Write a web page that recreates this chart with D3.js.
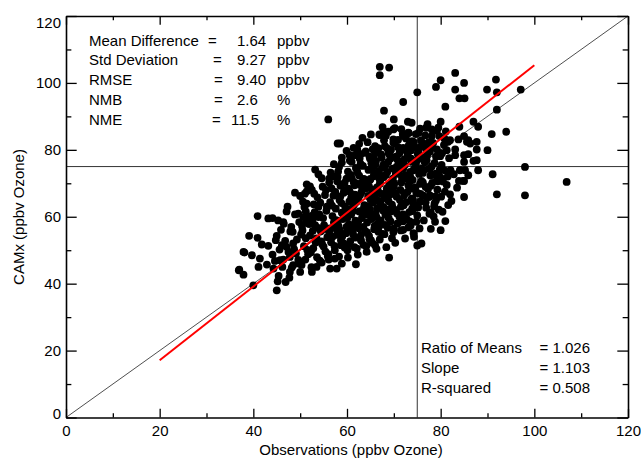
<!DOCTYPE html>
<html>
<head>
<meta charset="utf-8">
<script src="https://cdn.jsdelivr.net/npm/d3@7"></script>
<style>
  body { margin: 0; background: #fff; }
  text { font-family: "Liberation Sans", Arial, sans-serif; }
</style>
</head>
<body>
<script>
// axis ticks
const majorTicks = [0, 20, 40, 60, 80, 100, 120];
const minorTicks = [10, 30, 50, 70, 90, 110];

// statistics boxes
const statLabels = ["Mean Difference", "Std Deviation", "RMSE", "NMB", "NME"];
const statValues = ["1.64", "9.27", "9.40", "2.6", "11.5"];
const statUnits = ["ppbv", "ppbv", "ppbv", "%", "%"];
const fitLabels = ["Ratio of Means", "Slope", "R-squared"];
const fitValues = ["1.026", "1.103", "0.508"];

// regression line and the 75 ppbv threshold
const fitX = [20, 100];
const fitY = [17.1, 105.3];
const threshold = 75;

// [observed, CAMx] pairs, scattered points around the edges of the cloud
const outerPoints = [
  [67.0,104.8],[69.0,104.6],[67.0,102.3],[83.1,103.0],[80.0,100.8],[85.0,100.0],[79.0,98.8],[75.0,97.2],
  [83.1,98.0],[84.0,95.4],[85.1,95.4],[89.9,98.0],[91.8,101.0],[92.0,97.2],[97.1,98.0],[72.0,94.3],
  [81.0,92.9],[67.9,91.7],[92.0,92.0],[70.0,89.1],[73.0,88.4],[73.8,88.1],[80.0,88.4],[87.0,88.4],
  [77.2,87.7],[69.9,86.1],[78.1,86.1],[79.2,85.7],[67.8,85.4],[68.8,85.4],[73.1,85.1],[75.3,85.1],
  [90.9,84.7],[94.0,85.4],[85.0,84.1],[67.0,84.4],[81.6,82.4],[83.8,83.1],[85.6,82.4],[87.7,82.4],
  [77.2,81.1],[66.0,81.1],[59.9,79.7],[61.7,78.4],[62.9,78.7],[79.9,78.1],[81.3,79.9],[83.1,78.4],
  [87.7,80.1],[87.7,76.9],[85.0,76.4],[98.0,74.9],[58.5,81.9],[61.0,76.4],[64.9,77.4],[56.0,89.1],
  [58.0,81.9],[58.9,77.7],[57.2,75.7],[53.2,74.1],[62.2,80.1],[53.9,72.7],[56.2,71.4],[52.1,69.1],
  [51.0,66.9],[53.0,66.9],[51.4,63.9],[50.7,59.9],[51.4,58.4],[53.2,57.5],[88.0,86.9],[84.0,86.9],
  [85.9,82.9],[86.3,81.9],[90.0,79.9],[85.0,78.4],[87.0,76.7],[88.0,73.9],[85.2,73.9],[85.9,72.4],
  [84.8,70.7],[91.1,72.7],[106.9,70.4],[92.0,66.7],[98.0,66.4],[85.0,70.7],[83.9,70.7],[85.0,65.9],
  [82.0,66.7],[79.2,71.1],[79.6,72.4],[77.9,74.7],[77.7,66.4],[79.0,64.9],[76.9,62.7],[77.9,61.3],
  [81.0,58.7],[77.9,56.4],[80.0,56.0],[75.9,52.0],[75.0,51.4],[69.0,47.8],[61.9,45.8],[58.9,46.0],
  [75.0,60.4],[74.0,61.7],[73.1,56.8],[74.0,65.4],[75.0,67.1],[75.9,70.7],[75.9,74.4],[72.0,60.7],
  [69.9,55.4],[67.0,53.2],[65.1,53.0],[66.0,51.5],[64.1,51.2],[60.1,50.0],[72.0,56.1],[72.0,84.1],
  [74.2,82.4],[82.0,82.9],[69.9,83.1],[68.1,81.1],[75.9,81.1],[78.1,80.7],[83.1,80.1],[85.9,78.7],
  [77.0,76.9],[76.3,73.9],[78.1,75.1],[79.0,72.9],[80.0,71.7],[82.1,73.9],[84.1,73.9],[74.2,73.9],
  [73.5,71.9],[78.6,63.1],[62.1,50.5],[74.2,55.1],[40.9,60.2],[39.1,54.3],[40.9,53.7],[38.1,49.3],
  [39.7,48.5],[41.8,51.7],[43.2,51.3],[41.4,47.5],[36.9,44.0],[37.9,42.7],[40.0,39.5],[41.1,45.0],
  [42.9,45.7],[43.2,59.5],[44.1,59.6],[45.3,58.9],[47.1,61.6],[46.4,58.4],[48.9,67.2],[50.0,66.2],
  [51.4,67.6],[51.2,61.6],[53.2,60.6],[45.0,54.3],[46.1,51.5],[44.1,48.7],[45.7,47.0],[47.8,48.0],
  [47.8,43.5],[45.2,40.7],[46.9,40.5],[45.0,38.0],[48.5,45.5],[50.0,43.5],[52.5,43.5],[53.5,45.0],
  [54.6,46.3],[56.4,44.5],[57.4,47.5],[51.4,69.7],[49.6,60.9],[57.8,44.5],[37.0,44.2],[37.9,49.5]
];

// [observed, CAMx] pairs, the dense core of the cloud
const corePoints = [
  [44.3,44.5],[45.6,50.2],[44.8,53.0],[45.9,56.1],[44.6,46.8],[45.4,42.3],
  [46.2,45.0],[47.5,49.5],[46.8,52.8],[47.9,55.6],[46.5,57.9],[47.3,63.0],[47.7,41.8],[46.4,47.2],[47.1,51.0],
  [48.2,44.8],[49.6,47.1],[48.7,50.3],[49.3,53.2],[48.4,55.5],[49.8,58.4],[48.9,60.7],[49.1,49.0],[48.5,52.0],[49.7,46.0],[48.1,57.0],
  [50.3,45.6],[51.7,48.8],[50.8,51.2],[51.2,53.6],[50.5,55.9],[51.9,57.8],[50.9,62.9],[51.5,50.1],[50.2,54.7],[51.1,47.2],[51.6,60.2],[50.6,64.5],
  [52.4,44.9],[53.6,47.9],[52.8,50.6],[53.3,52.3],[52.1,54.4],[53.8,56.7],[52.6,58.9],[53.1,61.4],[52.9,63.7],[53.7,65.8],[52.3,49.3],[53.5,53.5],[52.7,55.8],[53.9,59.9],[52.5,68.0],
  [54.2,46.9],[55.4,49.6],[54.7,51.8],[55.8,53.9],[54.4,55.7],[55.1,57.5],[54.9,59.6],[55.6,61.8],[54.3,64.2],[55.3,66.5],[54.8,69.0],[55.9,48.2],[54.5,52.6],[55.2,56.4],[54.1,60.7],[55.7,63.0],[54.6,71.5],
  [56.1,47.2],[57.4,50.0],[56.6,52.4],[57.8,54.6],[56.3,56.5],[57.2,58.3],[56.9,60.2],[57.6,62.4],[56.4,64.4],[57.1,66.3],[56.7,68.5],[57.9,70.6],[56.5,73.2],[57.3,51.3],[56.2,55.5],[57.7,59.0],[56.8,63.3],[57.5,67.4],[56.0,48.8],
  [58.3,48.1],[59.5,50.8],[58.7,53.0],[59.8,55.1],[58.2,57.2],[59.1,59.3],[58.9,61.2],[59.6,63.1],[58.4,65.0],[59.3,67.2],[58.6,69.3],[59.9,71.4],[58.1,73.5],[59.2,52.1],[58.5,56.0],[59.7,60.3],[58.8,64.1],[59.4,68.0],[58.3,74.9],[59.0,54.2],[58.0,58.4],[59.8,62.3],[58.6,66.1],[59.5,70.2],
  [60.2,47.8],[61.6,50.9],[60.7,52.7],[61.3,54.8],[60.4,56.9],[61.8,58.8],[60.9,60.7],[61.1,62.6],[60.5,64.6],[61.7,66.6],[60.3,68.4],[61.4,70.4],[60.8,72.5],[61.9,74.6],[60.6,76.8],[61.2,55.9],[60.1,59.8],[61.5,63.6],[60.6,67.5],[61.0,71.5],[61.8,53.8],[60.4,57.8],[61.3,61.7],[60.9,65.6],[61.6,69.4],[60.2,73.5],
  [62.3,48.7],[63.5,51.6],[62.8,53.6],[63.9,55.7],[62.1,57.7],[63.2,59.6],[62.6,61.6],[63.7,63.5],[62.4,65.5],[63.1,67.4],[62.9,69.4],[63.6,71.3],[62.2,73.3],[63.4,75.2],[62.7,77.4],[63.8,79.1],[62.5,56.6],[63.3,60.5],[62.0,64.4],[63.9,68.4],[62.6,72.3],[63.0,54.6],[62.4,58.6],[63.6,62.5],[62.8,66.5],[63.2,70.3],[62.1,74.3],
  [64.2,49.5],[65.4,52.2],[64.7,54.3],[65.8,56.3],[64.3,58.3],[65.1,60.3],[64.9,62.2],[65.6,64.2],[64.5,66.2],[65.3,68.1],[64.1,70.1],[65.7,72.1],[64.6,74.0],[65.2,76.0],[64.8,78.0],[65.5,80.2],[64.4,82.3],[65.9,57.3],[64.0,61.2],[65.0,65.2],[64.7,69.1],[65.8,73.0],[64.3,55.3],[65.2,59.3],[64.6,63.2],[65.4,67.2],[64.9,71.0],[65.6,75.0],
  [66.3,50.4],[67.5,54.9],[66.8,56.9],[67.2,58.9],[66.1,60.9],[67.8,62.9],[66.6,64.8],[67.4,66.8],[66.4,68.8],[67.1,70.8],[66.9,72.7],[67.6,74.7],[66.2,76.7],[67.3,78.6],[66.7,80.5],[67.9,82.9],[66.5,57.9],[67.7,61.9],[66.0,65.9],[67.0,69.8],[66.8,73.7],[67.4,77.6],[66.3,59.9],[67.2,63.9],[66.6,67.8],[67.8,71.8],[66.1,75.7],
  [68.4,50.9],[69.6,53.6],[68.7,56.7],[69.3,58.6],[68.2,60.6],[69.8,62.6],[68.9,64.6],[69.1,66.5],[68.5,68.5],[69.5,70.5],[68.3,72.5],[69.7,74.4],[68.8,76.4],[69.2,78.3],[68.6,80.4],[69.9,82.1],[68.1,57.6],[69.4,61.6],[68.0,65.6],[69.0,69.5],[68.6,73.4],[69.3,77.4],[68.9,59.6],[69.6,63.6],[68.4,67.5],[69.8,71.4],[68.2,75.4],
  [70.3,52.2],[71.5,55.9],[70.8,58.0],[71.2,60.0],[70.4,62.0],[71.8,64.0],[70.6,66.0],[71.4,68.0],[70.1,70.0],[71.7,72.0],[70.9,74.0],[71.1,76.0],[70.5,78.0],[71.6,80.0],[70.2,82.0],[71.9,84.7],[70.7,61.0],[71.3,65.0],[70.0,69.0],[71.0,73.0],[70.8,77.0],[71.5,63.0],[70.3,67.0],[71.8,71.0],[70.6,75.0],[71.2,79.0],
  [72.4,53.5],[73.6,57.4],[72.7,59.4],[73.3,61.4],[72.1,63.4],[73.8,65.4],[72.9,67.4],[73.1,69.4],[72.5,71.4],[73.5,73.4],[72.3,75.4],[73.7,77.4],[72.8,79.4],[73.2,81.4],[72.6,83.4],[73.9,62.4],[72.2,66.4],[73.4,70.4],[72.0,74.4],[73.0,78.4],[72.7,64.4],[73.6,68.4],[72.4,72.4],[73.8,76.4],
  [74.3,54.0],[75.5,56.5],[74.8,58.5],[75.2,62.8],[74.1,64.8],[75.7,66.8],[74.6,68.8],[75.4,72.8],[74.9,76.8],[75.1,78.8],[74.5,80.8],[75.8,82.8],[74.2,63.8],[75.6,69.8],[74.7,75.8],[75.3,79.8],[74.0,71.0],[75.9,77.9],
  [76.4,58.9],[77.6,60.9],[76.8,64.3],[77.3,68.3],[76.2,70.3],[77.8,72.3],[76.6,76.3],[77.1,78.3],[76.9,80.3],[77.5,82.3],[76.3,66.3],[77.4,74.3],[76.7,84.3],[77.9,69.3],[76.1,77.3],
  [78.5,60.1],[79.6,62.1],[78.9,66.1],[79.3,68.1],[78.2,70.1],[79.8,74.1],[78.7,76.1],[79.2,80.1],[78.4,82.1],[79.7,84.1],[78.8,58.5],
  [80.4,61.5],[81.6,63.5],[80.9,67.5],[81.3,69.5],[80.2,75.5],[81.8,77.5],[80.7,81.5],[81.1,85.5],[80.5,70.5],
  [82.3,64.7],[83.5,68.7],[82.8,72.7]
];

// [observed, CAMx] pairs filling the darkest part of the cloud
const densePoints = [
  [58.9,76.2],[60.5,78.5],[61.4,80.6],[62.6,81.8],[63.3,83.6],[64.0,79.5],[65.1,84.6],[66.0,78.9],
  [66.9,84.6],[67.6,86.8],[68.3,84.2],[69.4,80.0],[70.2,86.5],[70.9,83.0],[71.6,86.2],[72.0,80.6],
  [73.2,85.0],[73.9,82.6],[74.7,84.7],[75.6,86.3],[76.2,82.0],[76.9,86.6],[77.7,79.4],[78.1,84.1],
  [79.0,78.0],[79.5,86.6],[80.3,79.0],[80.8,83.4],
  [59.9,57.0],[60.6,62.1],[61.0,66.0],[62.0,70.0],[62.9,75.8],[63.5,57.0],[64.5,60.6],[65.0,71.3],
  [65.7,77.1],[66.4,62.4],[66.9,71.4],[67.8,75.6],[68.5,62.2],[68.9,78.9],[69.7,68.0],[70.4,72.8],
  [70.9,80.8],[71.6,70.2],[72.3,77.2],[73.1,72.0],[73.7,79.9],[74.4,74.3],[74.8,67.2],[75.6,64.5],
  [76.2,73.1],[76.8,68.9],[77.5,65.9],[78.2,72.6],[78.7,64.0],[79.4,70.6],[80.1,66.0],[80.9,73.8],
  [81.5,72.0],
  [55.0,51.1],[56.9,54.0],[57.6,56.5],[58.7,51.5],[60.2,51.6],[61.7,57.3],[63.0,52.9],[64.8,53.3],
  [66.7,55.5],[68.0,54.8],[70.0,56.5],[71.9,58.6],[73.4,58.6],[50.4,57.2],[52.6,60.3],[53.9,63.0],
  [55.5,68.0],[56.2,70.2],[57.0,72.1],[58.0,71.9]
];

const width = 641;
const height = 459;
const margin = {top: 16, right: 13, bottom: 42, left: 66};

const x = d3.scaleLinear()
    .domain([0, 120])
    .range([margin.left, width - margin.right]);

const y = d3.scaleLinear()
    .domain([0, 120])
    .range([height - margin.bottom + 0.5, margin.top]);

const svg = d3.select("body").append("svg")
    .attr("width", width)
    .attr("height", height);

// threshold lines at 75 ppbv
svg.append("line")
    .attr("x1", x(0)).attr("x2", x(120))
    .attr("y1", y(threshold)).attr("y2", y(threshold))
    .attr("stroke", "#333").attr("stroke-width", 1);
svg.append("line")
    .attr("x1", x(threshold)).attr("x2", x(threshold))
    .attr("y1", y(0)).attr("y2", y(120))
    .attr("stroke", "#333").attr("stroke-width", 1);

// 1:1 line
svg.append("line")
    .attr("x1", x(0)).attr("y1", y(0))
    .attr("x2", x(120)).attr("y2", y(120))
    .attr("stroke", "#222").attr("stroke-width", 0.8);

// points
svg.append("g")
    .attr("fill", "#000")
  .selectAll("circle")
  .data(outerPoints.concat(corePoints, densePoints))
  .join("circle")
    .attr("cx", d => x(d[0]))
    .attr("cy", d => y(d[1]))
    .attr("r", 3.9);

// regression line
svg.append("line")
    .attr("x1", x(fitX[0])).attr("y1", y(fitY[0]))
    .attr("x2", x(fitX[1])).attr("y2", y(fitY[1]))
    .attr("stroke", "#ff0000").attr("stroke-width", 2);

// frame with inward ticks on all four sides
const xTickLen = 8.7;
const yTickLen = 10.7;

const styleAxis = g => {
    g.select(".domain").attr("stroke", "#000").attr("stroke-width", 1.6);
    g.selectAll(".tick line").attr("stroke", "#000").attr("stroke-width", 1.3);
    g.selectAll("text").attr("fill", "#000").attr("font-size", 15)
        .attr("font-family", "'Liberation Sans', Arial, sans-serif");
};

svg.append("g")
    .attr("transform", `translate(0,${y(0)})`)
    .call(d3.axisBottom(x).tickValues(majorTicks).tickSize(-xTickLen).tickSizeOuter(0).tickPadding(8))
    .call(styleAxis);
svg.append("g")
    .attr("transform", `translate(0,${y(0)})`)
    .call(d3.axisBottom(x).tickValues(minorTicks).tickSize(-xTickLen / 2).tickSizeOuter(0).tickFormat(""))
    .call(styleAxis)
    .call(g => g.select(".domain").remove());

const left = svg.append("g")
    .attr("transform", `translate(${x(0)},0)`)
    .call(d3.axisLeft(y).tickValues(majorTicks).tickSize(-yTickLen).tickSizeOuter(0).tickPadding(5))
    .call(styleAxis);
svg.append("g")
    .attr("transform", `translate(${x(0)},0)`)
    .call(d3.axisLeft(y).tickValues(minorTicks).tickSize(-yTickLen / 2).tickSizeOuter(0).tickFormat(""))
    .call(styleAxis)
    .call(g => g.select(".domain").remove());

// extreme y labels are pushed inside the axis range, like the original
left.selectAll(".tick text")
    .attr("dy", d => d === 120 ? "0.75em" : d === 0 ? "0.05em" : "0.32em");

svg.append("g")
    .attr("transform", `translate(0,${y(120)})`)
    .call(d3.axisTop(x).tickValues(majorTicks).tickSize(-xTickLen).tickSizeOuter(0).tickFormat(""))
    .call(styleAxis);
svg.append("g")
    .attr("transform", `translate(0,${y(120)})`)
    .call(d3.axisTop(x).tickValues(minorTicks).tickSize(-xTickLen / 2).tickSizeOuter(0).tickFormat(""))
    .call(styleAxis)
    .call(g => g.select(".domain").remove());

svg.append("g")
    .attr("transform", `translate(${x(120)},0)`)
    .call(d3.axisRight(y).tickValues(majorTicks).tickSize(-yTickLen).tickSizeOuter(0).tickFormat(""))
    .call(styleAxis);
svg.append("g")
    .attr("transform", `translate(${x(120)},0)`)
    .call(d3.axisRight(y).tickValues(minorTicks).tickSize(-yTickLen / 2).tickSizeOuter(0).tickFormat(""))
    .call(styleAxis)
    .call(g => g.select(".domain").remove());

// axis titles
svg.append("text")
    .attr("x", 351).attr("y", 455)
    .attr("text-anchor", "middle")
    .attr("font-size", 15)
    .text("Observations (ppbv Ozone)");

svg.append("text")
    .attr("transform", "translate(23.5,217) rotate(-90)")
    .attr("text-anchor", "middle")
    .attr("font-size", 15)
    .text("CAMx (ppbv Ozone)");

// statistics, top left
const statRowY = i => 45.5 + i * 19.75;
const eqX = [208, 213, 214, 214, 212];
const valX = [237, 237, 237, 237, 231];

const stats = svg.append("g").attr("font-size", 15).attr("fill", "#000");
statLabels.forEach((label, i) => {
    stats.append("text").attr("x", 89).attr("y", statRowY(i)).text(label);
    stats.append("text").attr("x", eqX[i]).attr("y", statRowY(i)).text("=");
    stats.append("text").attr("x", valX[i]).attr("y", statRowY(i)).text(statValues[i]);
    stats.append("text").attr("x", 277).attr("y", statRowY(i)).text(statUnits[i]);
});

// fit statistics, bottom right
const fit = svg.append("g").attr("font-size", 15).attr("fill", "#000");
fitLabels.forEach((label, i) => {
    const ty = 352.5 + i * 20;
    fit.append("text").attr("x", 421).attr("y", ty).text(label);
    fit.append("text").attr("x", 590).attr("y", ty)
        .attr("text-anchor", "end")
        .text("= " + fitValues[i]);
});
</script>
</body>
</html>
